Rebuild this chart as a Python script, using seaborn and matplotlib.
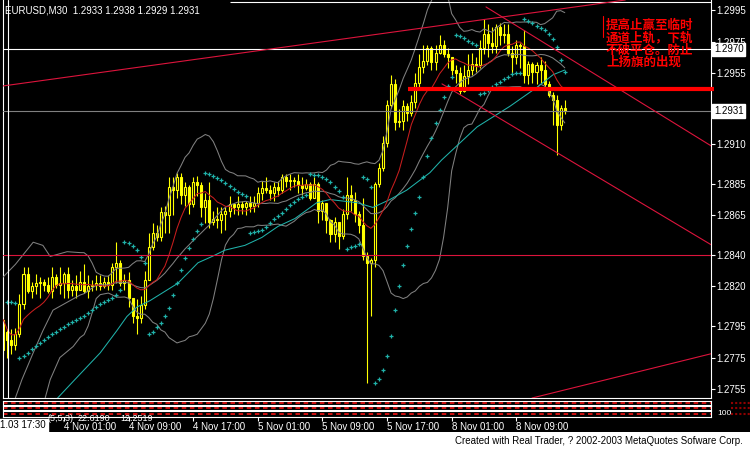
import numpy as np
import pandas as pd
import matplotlib
matplotlib.use('Agg')
import matplotlib.pyplot as plt
import seaborn as sns
from matplotlib.transforms import blended_transform_factory
from matplotlib.lines import Line2D
from matplotlib.patches import Rectangle

# ---------------- data (EURUSD M30, 3 Nov 17:30 .. 8 Nov 15:00) ----------------
opens = [
    1.2780, 1.2791, 1.2786, 1.2783, 1.2790, 1.2809, 1.2828, 1.2817, 1.2820, 1.2822,
    1.2823, 1.2821, 1.2817, 1.2826, 1.2821, 1.2822, 1.2828, 1.2818, 1.2820, 1.2818,
    1.2823, 1.2817, 1.2820, 1.2821, 1.2822, 1.2820, 1.2823, 1.2821, 1.2832, 1.2835,
    1.2822, 1.2824, 1.2813, 1.2801, 1.2800, 1.2808, 1.2824, 1.2845, 1.2854, 1.2851,
    1.2867, 1.2865, 1.2883, 1.2881, 1.2889, 1.2878, 1.2883, 1.2872, 1.2886, 1.2884,
    1.2870, 1.2875, 1.2861, 1.2863, 1.2862, 1.2866, 1.2868, 1.2872, 1.2870, 1.2872,
    1.2870, 1.2873, 1.2871, 1.2873, 1.2879, 1.2882, 1.2881, 1.2879, 1.2883, 1.2881,
    1.2889, 1.2887, 1.2887, 1.2887, 1.2884, 1.2882, 1.2885, 1.2876, 1.2885, 1.2868,
    1.2873, 1.2862, 1.2853, 1.2861, 1.2852, 1.2866, 1.2878, 1.2875, 1.2866, 1.2859,
    1.2839, 1.2835, 1.2837, 1.2885, 1.2895, 1.2911, 1.2935, 1.2948, 1.2924, 1.2925,
    1.2934, 1.2930, 1.2937, 1.2949, 1.2959, 1.2963, 1.2971, 1.2962, 1.2968, 1.2973,
    1.2967, 1.2965, 1.2957, 1.2955, 1.2944, 1.2953, 1.2957, 1.2961, 1.2960, 1.2971,
    1.2980, 1.2974, 1.2972, 1.2984, 1.2979, 1.2980, 1.2968, 1.2965, 1.2973, 1.2972,
    1.2954, 1.2961, 1.2956, 1.2960, 1.2957, 1.2948, 1.2941, 1.2938, 1.2922, 1.2933]
highs = [
    1.2810, 1.2793, 1.2793, 1.2794, 1.2815, 1.2832, 1.2832, 1.2823, 1.2828, 1.2826,
    1.2825, 1.2826, 1.2832, 1.2828, 1.2832, 1.2829, 1.2832, 1.2824, 1.2827, 1.2830,
    1.2834, 1.2827, 1.2824, 1.2827, 1.2827, 1.2826, 1.2827, 1.2835, 1.2848, 1.2837,
    1.2828, 1.2829, 1.2813, 1.2812, 1.2814, 1.2830, 1.2854, 1.2860, 1.2859, 1.2870,
    1.2871, 1.2889, 1.2889, 1.2892, 1.2892, 1.2886, 1.2884, 1.2889, 1.2890, 1.2886,
    1.2879, 1.2886, 1.2868, 1.2870, 1.2870, 1.2870, 1.2877, 1.2873, 1.2877, 1.2874,
    1.2874, 1.2877, 1.2877, 1.2883, 1.2887, 1.2889, 1.2884, 1.2886, 1.2887, 1.2891,
    1.2891, 1.2891, 1.2889, 1.2891, 1.2889, 1.2888, 1.2886, 1.2889, 1.2886, 1.2875,
    1.2873, 1.2863, 1.2864, 1.2861, 1.2869, 1.2889, 1.2884, 1.2880, 1.2868, 1.2876,
    1.2842, 1.2838, 1.2886, 1.2898, 1.2915, 1.2938, 1.2954, 1.2951, 1.2932, 1.2938,
    1.2936, 1.2941, 1.2955, 1.2967, 1.2973, 1.2973, 1.2972, 1.2973, 1.2979, 1.2976,
    1.2971, 1.2965, 1.2960, 1.2959, 1.2960, 1.2967, 1.2968, 1.2965, 1.2976, 1.2989,
    1.2986, 1.2984, 1.2986, 1.2987, 1.2986, 1.2986, 1.2972, 1.2976, 1.2974, 1.2982,
    1.2963, 1.2962, 1.2962, 1.2965, 1.2963, 1.2950, 1.2943, 1.2941, 1.2935, 1.2938]
lows = [
    1.2777, 1.2775, 1.2777, 1.2780, 1.2788, 1.2806, 1.2816, 1.2813, 1.2815, 1.2813,
    1.2817, 1.2816, 1.2813, 1.2819, 1.2815, 1.2813, 1.2813, 1.2814, 1.2813, 1.2818,
    1.2816, 1.2813, 1.2817, 1.2818, 1.2818, 1.2819, 1.2818, 1.2818, 1.2822, 1.2820,
    1.2818, 1.2807, 1.2797, 1.2790, 1.2797, 1.2806, 1.2824, 1.2843, 1.2849, 1.2849,
    1.2854, 1.2854, 1.2865, 1.2876, 1.2872, 1.2871, 1.2866, 1.2870, 1.2877, 1.2864,
    1.2860, 1.2857, 1.2859, 1.2857, 1.2854, 1.2856, 1.2864, 1.2866, 1.2865, 1.2866,
    1.2865, 1.2867, 1.2867, 1.2870, 1.2875, 1.2879, 1.2875, 1.2874, 1.2877, 1.2879,
    1.2883, 1.2881, 1.2883, 1.2879, 1.2878, 1.2881, 1.2875, 1.2876, 1.2860, 1.2862,
    1.2854, 1.2848, 1.2848, 1.2844, 1.2850, 1.2863, 1.2868, 1.2861, 1.2854, 1.2837,
    1.2759, 1.2801, 1.2832, 1.2883, 1.2893, 1.2908, 1.2933, 1.2919, 1.2921, 1.2919,
    1.2925, 1.2928, 1.2933, 1.2946, 1.2955, 1.2960, 1.2957, 1.2957, 1.2967, 1.2965,
    1.2958, 1.2954, 1.2949, 1.2942, 1.2943, 1.2948, 1.2954, 1.2956, 1.2958, 1.2967,
    1.2965, 1.2968, 1.2968, 1.2973, 1.2974, 1.2966, 1.2955, 1.2961, 1.2958, 1.2949,
    1.2948, 1.2949, 1.2948, 1.2949, 1.2946, 1.2940, 1.2922, 1.2903, 1.2919, 1.2929]
closes = [
    1.2799, 1.2786, 1.2783, 1.2790, 1.2809, 1.2828, 1.2817, 1.2820, 1.2822, 1.2823,
    1.2821, 1.2817, 1.2826, 1.2821, 1.2822, 1.2828, 1.2818, 1.2820, 1.2818, 1.2823,
    1.2817, 1.2820, 1.2821, 1.2822, 1.2820, 1.2823, 1.2821, 1.2832, 1.2835, 1.2822,
    1.2824, 1.2813, 1.2801, 1.2800, 1.2808, 1.2824, 1.2845, 1.2854, 1.2851, 1.2867,
    1.2865, 1.2883, 1.2881, 1.2889, 1.2878, 1.2883, 1.2872, 1.2886, 1.2884, 1.2870,
    1.2875, 1.2861, 1.2863, 1.2862, 1.2866, 1.2868, 1.2872, 1.2870, 1.2872, 1.2870,
    1.2873, 1.2871, 1.2873, 1.2879, 1.2882, 1.2881, 1.2879, 1.2883, 1.2881, 1.2889,
    1.2887, 1.2887, 1.2887, 1.2884, 1.2882, 1.2885, 1.2876, 1.2885, 1.2868, 1.2873,
    1.2862, 1.2853, 1.2861, 1.2852, 1.2866, 1.2878, 1.2875, 1.2866, 1.2859, 1.2839,
    1.2835, 1.2837, 1.2885, 1.2895, 1.2911, 1.2935, 1.2948, 1.2924, 1.2925, 1.2934,
    1.2930, 1.2937, 1.2949, 1.2959, 1.2963, 1.2971, 1.2962, 1.2968, 1.2973, 1.2967,
    1.2965, 1.2957, 1.2955, 1.2944, 1.2953, 1.2957, 1.2961, 1.2960, 1.2971, 1.2980,
    1.2974, 1.2972, 1.2984, 1.2979, 1.2980, 1.2968, 1.2965, 1.2973, 1.2972, 1.2954,
    1.2961, 1.2956, 1.2960, 1.2957, 1.2948, 1.2941, 1.2938, 1.2922, 1.2933, 1.2931]

# slow moving average (teal) at bar positions
teal_idx = [10, 17.7, 24, 28.1, 30.6, 33.1, 36.3, 43.2, 48.2, 51.7, 54.9, 59.8, 64, 68,
            72.2, 77.6, 80.9, 87.6, 91.5, 95.7, 99.9, 105.6, 108.5, 117.3, 125.4, 132.1,
            136.1, 139]
teal_val = [1.2740, 1.2761, 1.2778, 1.2792, 1.2801, 1.2807, 1.2811, 1.2822, 1.2835, 1.2839,
            1.2843, 1.2846, 1.2851, 1.2858, 1.2863, 1.2873, 1.2875, 1.2873, 1.2870, 1.2875,
            1.2881, 1.2892, 1.2900, 1.2921, 1.2934, 1.2946, 1.2954, 1.2957]

# Bollinger band segments before the 20-bar window is filled
bb_up_head_idx = [-0.8, 3.0, 7.4, 9.8, 11.6, 15.8]
bb_up_head_val = [1.2824, 1.2834, 1.2848, 1.2846, 1.2839, 1.2842]
bb_mid_head_idx = [2.5, 4.6, 7.4, 9.8, 12.3, 15.8]
bb_mid_head_val = [1.2746, 1.2761, 1.2778, 1.2792, 1.2805, 1.2810]
bb_low_head_idx = [10.0, 11.6, 14.0, 17.3]
bb_low_head_val = [1.2746, 1.2761, 1.2775, 1.2782]

header = "EURUSD,M30  1.2933 1.2938 1.2929 1.2931"
tick_idx = [15, 31, 47, 63, 79, 95, 111, 127]
tick_labels = ["4 Nov 01:00", "4 Nov 09:00", "4 Nov 17:00", "5 Nov 01:00",
               "5 Nov 09:00", "5 Nov 17:00", "8 Nov 01:00", "8 Nov 09:00"]
price_ticks = [1.2995, 1.2975, 1.2955, 1.2910, 1.2885, 1.2865, 1.2840,
               1.2820, 1.2795, 1.2775, 1.2755]
sub_info = ["(5,5,3)", "22.6190", "12.2519"]

# chart objects
level_white = 1.2970
level_bid = 1.2931
level_red = 1.2840
level_thick = 1.2945
level_thick_start = 100.2
level_top = 1.3000
level_top_start = 56
trend_rise = [(-0.07, 1.29469), (145.2, 1.29982)]
trend_bottom = [(130.9, 1.27494), (174.9, 1.27772)]
trend_down_upper = [(119.5, 1.29969), (174.9, 1.29095)]
trend_down_lower = [(108.6, 1.29482), (174.9, 1.28469)]
vlines_white = [1.24]

note_lines = ["提高止赢至临时", "通道上轨，下轨", "不破平仓。防止", "上扬旗的出现"]
footer = "Created with Real Trader, ? 2002-2003 MetaQuotes Sofware Corp."

# ---------------- style ----------------
sns.set_theme(style="dark", rc={"axes.facecolor": "black", "figure.facecolor": "black"})
plt.rcParams['font.family'] = ['Liberation Sans', 'DejaVu Sans']

W, H = 750, 450
YEL = "#FFFF00"
CRIMSON = "#DC143C"
MA_RED = "#C81E1E"
GRAY = "#808080"
TEAL = "#20B2AA"

XL, XR = -0.2, 175.2
YB, YT = 1.27494, 1.30013


def rect(x0, y0, x1, y1):
    return [x0 / W, 1 - y1 / H, (x1 - x0) / W, (y1 - y0) / H]


fig = plt.figure(figsize=(7.5, 4.5), dpi=100, facecolor="black")
ax = fig.add_axes(rect(2.5, 0, 711, 398))
ax.set_facecolor("black")

df = pd.DataFrame({"i": np.arange(len(closes)), "open": opens, "high": highs,
                   "low": lows, "close": closes})

# ---- candles ----
up = df["close"] >= df["open"]
bottom = np.minimum(df["open"], df["close"])
height = np.maximum(np.abs(df["close"] - df["open"]), 0.00003)
ax.vlines(df["i"], df["low"], df["high"], color=YEL, lw=0.8, zorder=2)
ax.bar(df["i"][up], height[up], bottom=bottom[up], width=0.5, facecolor="black",
       edgecolor=YEL, lw=0.8, zorder=2.5)
ax.bar(df["i"][~up], height[~up], bottom=bottom[~up], width=0.5, facecolor=YEL,
       edgecolor=YEL, lw=0.8, zorder=2.5)

# ---- indicators ----
ma10 = df["close"].rolling(10, min_periods=1).mean()
mid = df["close"].rolling(20).mean()
sd = df["close"].rolling(20).std(ddof=0)
upper = mid + 2 * sd
lower = mid - 2 * sd
idx20 = list(df["i"][19:])


def gline(xs, ys, color, lw=0.75, z=3):
    sns.lineplot(x=list(xs), y=list(ys), ax=ax, color=color, lw=lw, sort=False,
                 estimator=None, legend=False, zorder=z)


gline(bb_up_head_idx + idx20, bb_up_head_val + list(upper[19:]), GRAY)
gline(bb_mid_head_idx + idx20, bb_mid_head_val + list(mid[19:]), GRAY)
gline(bb_low_head_idx + idx20, bb_low_head_val + list(lower[19:]), GRAY)
gline(teal_idx, teal_val, TEAL)
gline(df["i"], ma10, MA_RED)


def psar(high, low, step=0.02, amax=0.2):
    n = len(high)
    out = np.zeros(n)
    bull = True
    af = step
    ep = high[0]
    out[0] = low[0]
    for k in range(1, n):
        prev = out[k - 1]
        s = prev + af * (ep - prev)
        if bull:
            s = min(s, low[k - 1], low[k - 2] if k > 1 else low[k - 1])
            if low[k] < s:
                bull, s, ep, af = False, ep, low[k], step
            elif high[k] > ep:
                ep, af = high[k], min(af + step, amax)
        else:
            s = max(s, high[k - 1], high[k - 2] if k > 1 else high[k - 1])
            if high[k] > s:
                bull, s, ep, af = True, ep, high[k], step
            elif low[k] < ep:
                ep, af = low[k], min(af + step, amax)
        out[k] = s
    return out


sar = psar(np.array(highs), np.array(lows))
sns.scatterplot(x=df["i"][1:], y=sar[1:], ax=ax, marker="+", s=10, color=TEAL,
                linewidth=0.9, legend=False, zorder=3)

# ---- chart objects ----
ax.axhline(level_white, color="white", lw=0.8, zorder=4)
ax.axhline(level_bid, color=GRAY, lw=0.8, zorder=4)
ax.axhline(level_red, color=CRIMSON, lw=0.8, zorder=4)
ax.hlines(level_top, level_top_start, XR, color="white", lw=0.8, zorder=4)
for v in vlines_white:
    ax.axvline(v, color="white", lw=0.8, zorder=4)
ax.axline(trend_rise[0], trend_rise[1], color=CRIMSON, lw=0.8, zorder=4)
ax.axline(trend_bottom[0], trend_bottom[1], color=CRIMSON, lw=0.8, zorder=4)
for (x0, y0), (x1, y1) in (trend_down_upper, trend_down_lower):
    slope = (y1 - y0) / (x1 - x0)
    ax.plot([x0, XR], [y0, y0 + slope * (XR - x0)], color=CRIMSON, lw=0.8, zorder=4)
ax.plot([level_thick_start, XR + 0.8], [level_thick, level_thick], color="#FF0000",
        lw=3.0, zorder=6, clip_on=False, solid_capstyle="butt")

ax.set_xlim(XL, XR)
ax.set_ylim(YB, YT)
ax.set_xticks([])
ax.yaxis.tick_right()
ax.set_yticks(price_ticks)
ax.set_yticklabels([f"{p:.4f}" for p in price_ticks])
ax.tick_params(axis="y", colors="white", length=3, width=0.8, pad=1, labelsize=7,
               direction="out", right=True, left=False)
ax.set_xlabel("")
ax.set_ylabel("")
ax.grid(False)
for side in ("left", "right", "bottom"):
    ax.spines[side].set_color("white")
    ax.spines[side].set_linewidth(0.8)
    ax.spines[side].set_visible(True)
ax.spines["top"].set_visible(False)

# price boxes
bt = blended_transform_factory(ax.transAxes, ax.transData)
for val in (level_white, level_bid):
    ax.text(1.004, val, f"{val:.4f}", transform=bt, ha="left", va="center", fontsize=7,
            color="black", zorder=10, clip_on=False,
            bbox=dict(boxstyle="square,pad=0.2", fc="white", ec="white"))

ax.text(0.004, 0.985, header, transform=ax.transAxes, ha="left", va="top",
        fontsize=7, color="white", zorder=10)

# ---- indicator sub-windows ----
sub_rows = [(400.5, 404.5), (405.5, 409.5), (411.0, 416.5)]
sub_levels = [0.5, 0.5, 0.5]
subs = []
for (y0, y1), lev in zip(sub_rows, sub_levels):
    s = fig.add_axes(rect(2.5, y0, 711, y1))
    s.set_facecolor("black")
    s.set_xlim(XL, XR)
    s.set_ylim(0, 1)
    s.axhline(lev, color="#E01010", lw=1.3, dashes=(2.5, 2))
    s.set_yticks([])
    s.set_xticks([])
    s.grid(False)
    for sp in s.spines.values():
        sp.set_color("white")
        sp.set_linewidth(0.8)
        sp.set_visible(True)
    subs.append(s)

s3 = subs[-1]
s3.set_xticks(tick_idx)
s3.set_xticklabels(tick_labels)
s3.tick_params(axis="x", colors="white", length=3, width=0.8, pad=1, labelsize=7,
               direction="out", bottom=True)
for lbl in s3.get_xticklabels():
    lbl.set_ha("left")

fig.text(717 / W, 1 - 413.5 / H, "100", color="white", fontsize=6, va="center")
for yy in (402.5, 407.5, 413.5):
    fig.add_artist(Line2D([731 / W, 750 / W], [1 - yy / H] * 2, color="#900000",
                          lw=1.5, dashes=(1, 1)))

for xx, txt in zip((47, 78, 120), sub_info):
    fig.text(xx / W, 1 - 418.5 / H, txt, color="white", fontsize=6.5, va="center",
             ha="left")
fig.text(0.5 / W, 1 - 425.5 / H, "1.03 17:30", color="black", fontsize=7, va="center",
         ha="left", bbox=dict(boxstyle="square,pad=0.15", fc="white", ec="white"))

# bottom strip
fig.add_artist(Rectangle((0, 0), 1, 1 - 432 / H, transform=fig.transFigure,
                         facecolor="white", edgecolor="none"))
fig.text(743 / W, 1 - 441 / H, footer, color="black", fontsize=7, ha="right",
         va="center")

# annotation
fig.text(606 / W, 1 - 19 / H, "\n".join(note_lines), color="#FF0000", fontsize=9,
         family=["Noto Sans CJK SC", "DejaVu Sans"], fontweight="bold", ha="left",
         va="top", linespacing=0.92, zorder=20)
fig.add_artist(Line2D([603 / W, 603 / W], [1 - 16 / H, 1 - 37 / H], color="#FF0000",
                      lw=0.8))

fig.savefig("out.png", dpi=100, facecolor="black")
